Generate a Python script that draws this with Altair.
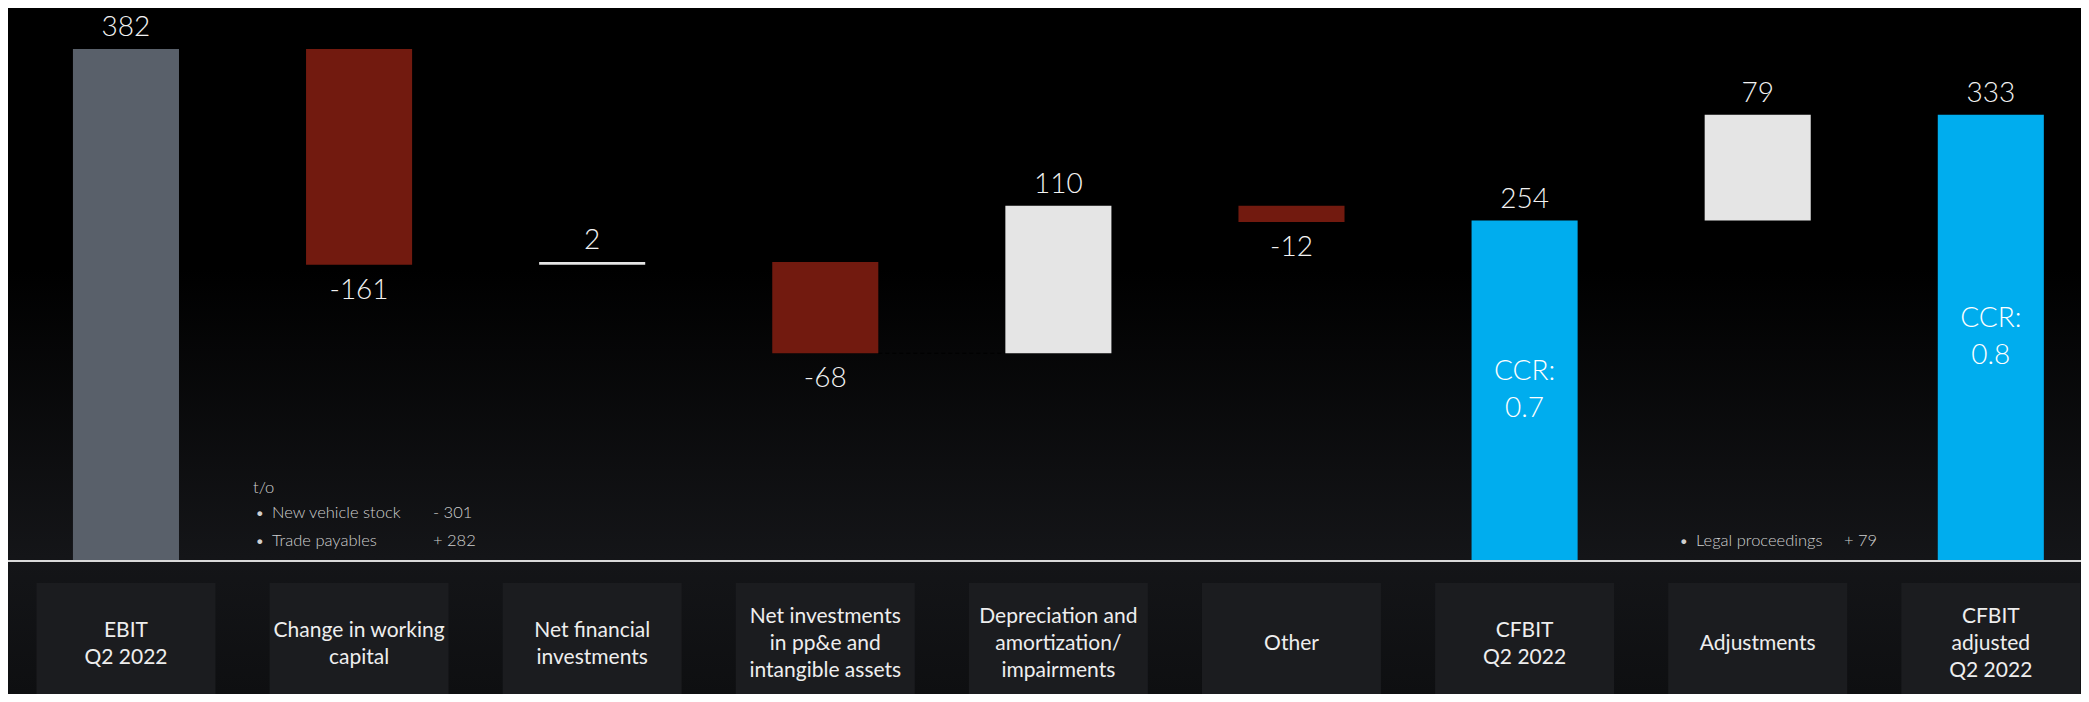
import altair as alt
import pandas as pd

# ---------------- data ----------------
categories = [
    "EBIT Q2 2022",
    "Change in working capital",
    "Net financial investments",
    "Net investments in pp&e and intangible assets",
    "Depreciation and amortization/impairments",
    "Other",
    "CFBIT Q2 2022",
    "Adjustments",
    "CFBIT adjusted Q2 2022",
]
category_labels = [
    "EBIT\nQ2 2022",
    "Change in working\ncapital",
    "Net financial\ninvestments",
    "Net investments\nin pp&e and\nintangible assets",
    "Depreciation and\namortization/\nimpairments",
    "Other",
    "CFBIT\nQ2 2022",
    "Adjustments",
    "CFBIT\nadjusted\nQ2 2022",
]
values = [382, -161, 2, -68, 110, -12, 254, 79, 333]
kinds = ["start", "decrease", "increase", "decrease", "increase", "decrease",
         "total", "increase", "total"]
ccr_labels = ["", "", "", "", "", "", "CCR:\n0.7", "", "CCR:\n0.8"]

note_wc_title = "t/o"
note_wc_items = ["New vehicle stock", "Trade payables"]
note_wc_values = ["- 301", "+ 282"]
note_adj_items = ["Legal proceedings"]
note_adj_values = ["+ 79"]

# ---------------- waterfall table ----------------
rows = []
running = 0
for cat, lab, v, k, ccr in zip(categories, category_labels, values, kinds, ccr_labels):
    if k in ("start", "total"):
        start, end = 0, v
    else:
        start, end = running, running + v
    running = end
    rows.append({
        "cat": cat, "label": lab, "nlines": lab.count("\n") + 1,
        "value": v, "kind": k,
        "start": start, "end": end,
        "top": max(start, end), "bottom": min(start, end),
        "mid": (start + end) / 2, "ccr": ccr,
        "txt": str(v), "side": "below" if v < 0 else "above",
    })
df = pd.DataFrame(rows)

conn = pd.DataFrame({
    "cat": categories[:-1],
    "nxt": categories[1:],
    "level": [r["end"] for r in rows[:-1]],
})

# ---------------- layout ----------------
W, H = 2073, 686
px_per_unit = 512 / 382
y_top = 553 / px_per_unit
y_bot = -(H - 553) / px_per_unit

FONT = "Lato, 'Open Sans', sans-serif"
TXT = "#f2f2f2"
NOTE = "#cfcfcf"

xs = alt.Scale(domain=categories, paddingInner=0.545, paddingOuter=0.219, align=0.636)
ys = alt.Scale(domain=[y_bot, y_top], nice=False, zero=False)

X = alt.X("cat:N", scale=xs, axis=None, sort=categories)

base = alt.Chart(df)
one = pd.DataFrame({"a": [0]})

bg = alt.Chart(one).mark_rect(
    fill=alt.LinearGradient(
        gradient="linear",
        stops=[
            alt.GradientStop(color="#000000", offset=0),
            alt.GradientStop(color="#000000", offset=0.38),
            alt.GradientStop(color="#141518", offset=0.80),
            alt.GradientStop(color="#0e0f11", offset=1),
        ],
        x1=0, x2=0, y1=0, y2=1,
    )
).encode(x=alt.value(0), x2=alt.value(W), y=alt.value(0), y2=alt.value(H))

boxes = base.mark_bar(width=179, color="#1b1c1f").encode(
    x=X, y=alt.value(575), y2=alt.value(H)
)

connectors = alt.Chart(conn).mark_rule(color="#000000", strokeDash=[4, 3], strokeWidth=1).encode(
    x=alt.X("cat:N", scale=xs, axis=None, sort=categories, bandPosition=1),
    x2=alt.X2("nxt:N", bandPosition=0),
    y=alt.Y("level:Q", scale=ys, axis=None),
)

bars = base.mark_bar().encode(
    x=X,
    y=alt.Y("start:Q", scale=ys, axis=None),
    y2="end:Q",
    color=alt.Color(
        "kind:N",
        scale=alt.Scale(
            domain=["start", "decrease", "increase", "total"],
            range=["#59606a", "#721a0f", "#e5e5e5", "#00adee"],
        ),
        legend=None,
    ),
)

baseline = alt.Chart(one).mark_rule(color="#d9d9d9", strokeWidth=2).encode(
    x=alt.value(0), x2=alt.value(W), y=alt.datum(0, type="quantitative")
)

lab_above = base.transform_filter("datum.side == 'above'").mark_text(
    font=FONT, fontSize=28, fontWeight=300, color=TXT, baseline="alphabetic", dy=-13
).encode(x=X, y=alt.Y("top:Q", scale=ys), text="txt:N")

lab_below = base.transform_filter("datum.side == 'below'").mark_text(
    font=FONT, fontSize=28, fontWeight=300, color=TXT, baseline="alphabetic", dy=34
).encode(x=X, y=alt.Y("bottom:Q", scale=ys), text="txt:N")

ccr = base.transform_filter("datum.ccr != ''").mark_text(
    font=FONT, fontSize=28, fontWeight=300, color="#ffffff", baseline="middle",
    lineBreak="\n", lineHeight=37, dy=-18.5
).encode(x=X, y=alt.Y("mid:Q", scale=ys), text="ccr:N")

cat_layers = []
for n in (1, 2, 3):
    cat_layers.append(
        base.transform_filter(f"datum.nlines == {n}").mark_text(
            font=FONT, fontSize=21, color="#eeeeee", baseline="middle",
            lineBreak="\n", lineHeight=27, dy=-(n - 1) * 27 / 2
        ).encode(x=X, y=alt.value(636), text="label:N")
    )

# annotations
small = dict(font=FONT, fontSize=16.5, fontWeight=300, color=NOTE, baseline="middle", align="left")
note_layers = [
    alt.Chart(pd.DataFrame({"t": [note_wc_title]})).mark_text(**small).encode(
        x=alt.value(245), y=alt.value(480), text="t:N")
]
for i, (item, val) in enumerate(zip(note_wc_items, note_wc_values)):
    d = pd.DataFrame({"item": [item], "val": [val]})
    yv = [505, 533][i]
    note_layers += [
        alt.Chart(d).mark_text(**small).encode(x=alt.value(247), y=alt.value(yv), text=alt.value("•")),
        alt.Chart(d).mark_text(**small).encode(x=alt.value(264), y=alt.value(yv), text="item:N"),
        alt.Chart(d).mark_text(**small).encode(x=alt.value(425), y=alt.value(yv), text="val:N"),
    ]
for item, val in zip(note_adj_items, note_adj_values):
    d = pd.DataFrame({"item": [item], "val": [val]})
    note_layers += [
        alt.Chart(d).mark_text(**small).encode(x=alt.value(1671), y=alt.value(533), text=alt.value("•")),
        alt.Chart(d).mark_text(**small).encode(x=alt.value(1688), y=alt.value(533), text="item:N"),
        alt.Chart(d).mark_text(**small).encode(x=alt.value(1836), y=alt.value(533), text="val:N"),
    ]

chart = alt.layer(
    bg, boxes, connectors, bars, baseline, lab_above, lab_below, ccr,
    *cat_layers, *note_layers,
).properties(
    width=W, height=H, padding=0, background="#000000",
    autosize=alt.AutoSizeParams(type="none"),
).configure_view(stroke=None, strokeWidth=0)

chart.save("out.html", embed_options={"renderer": "svg", "actions": False})
